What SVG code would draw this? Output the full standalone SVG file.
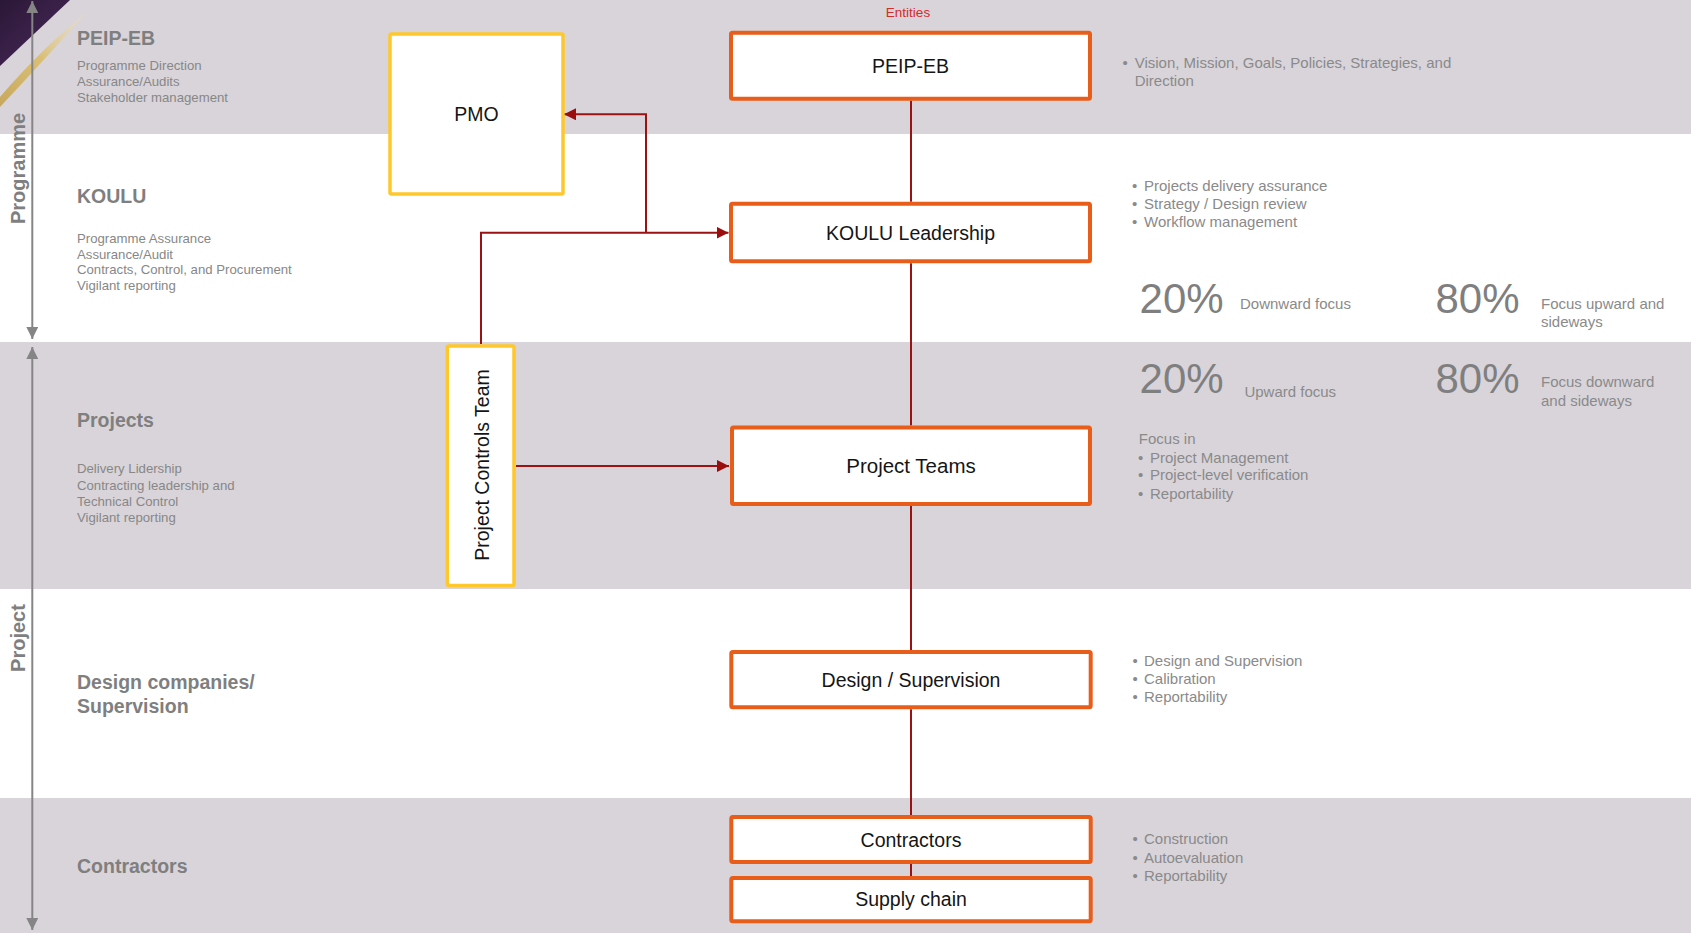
<svg xmlns="http://www.w3.org/2000/svg" width="1691" height="934" viewBox="0 0 1691 934">
  <defs>
    <style>
      .band { fill: #d8d4da; }
      .axis { stroke: #858585; stroke-width: 2; fill: none; }
      .axislbl { font-family: "Liberation Sans", Arial, sans-serif; font-size: 20px; font-weight: bold; fill: #7f7f7f; text-anchor: middle; }
      .head { font-family: "Liberation Sans", Arial, sans-serif; font-size: 19.5px; font-weight: bold; fill: #7f7f7f; }
      .sub { font-family: "Liberation Sans", Arial, sans-serif; font-size: 13.2px; fill: #878787; }
      .note { font-family: "Liberation Sans", Arial, sans-serif; font-size: 15px; fill: #8a8a8a; }
      .pct { font-family: "Liberation Sans", Arial, sans-serif; font-size: 42px; fill: #7f7f7f; }
      .entity { fill: #ffffff; stroke: #e85d1a; stroke-width: 4; }
      .support { fill: #ffffff; stroke: #ffc82a; stroke-width: 3.5; }
      .lbl { font-family: "Liberation Sans", Arial, sans-serif; font-size: 19.5px; fill: #151515; text-anchor: middle; }
      .link { stroke: #9a1212; stroke-width: 2; fill: none; }
      .caption { font-family: "Liberation Sans", Arial, sans-serif; font-size: 13.5px; fill: #d42b2b; text-anchor: middle; }
    </style>
    <marker id="arrowRed" markerWidth="12" markerHeight="12" refX="12" refY="6" orient="auto" markerUnits="userSpaceOnUse">
      <path d="M0,0 L12,6 L0,12 Z" fill="#9a0e0e"/>
    </marker>
    <marker id="arrowGray" markerWidth="12" markerHeight="12" refX="12" refY="6" orient="auto-start-reverse" markerUnits="userSpaceOnUse">
      <path d="M0,0 L12,6 L0,12 Z" fill="#858585"/>
    </marker>
    <linearGradient id="purple" x1="0" y1="0" x2="1" y2="1">
      <stop offset="0" stop-color="#2a1736"/>
      <stop offset="1" stop-color="#4d2c5e"/>
    </linearGradient>
    <linearGradient id="gold" x1="1" y1="0" x2="0" y2="1">
      <stop offset="0" stop-color="#efe3c0" stop-opacity="0.4"/>
      <stop offset="0.5" stop-color="#d9bf76"/>
      <stop offset="1" stop-color="#c8a95c"/>
    </linearGradient>
  </defs>

  <!-- background bands -->
  <rect x="0" y="0" width="1691" height="934" fill="#ffffff"/>
  <rect class="band" x="0" y="0" width="1691" height="134"/>
  <rect class="band" x="0" y="342" width="1691" height="247"/>
  <rect class="band" x="0" y="798" width="1691" height="135"/>

  <!-- corner ornament -->
  <polygon points="0,0 70,0 0,66" fill="url(#purple)"/>
  <path d="M86,13 Q44,46 0,97 L0,107 Q46,58 86,13 Z" fill="url(#gold)"/>

  <!-- level axes -->
  <g id="axis-programme">
    <line class="axis" x1="32.3" y1="1" x2="32.3" y2="339" marker-start="url(#arrowGray)" marker-end="url(#arrowGray)"/>
    <text class="axislbl" transform="translate(25,168.5) rotate(-90)">Programme</text>
  </g>
  <g id="axis-project">
    <line class="axis" x1="32.3" y1="347" x2="32.3" y2="930" marker-start="url(#arrowGray)" marker-end="url(#arrowGray)"/>
    <text class="axislbl" transform="translate(25,638) rotate(-90)">Project</text>
  </g>

  <!-- level descriptions -->
  <g id="level-peip">
    <text class="head" x="77" y="45">PEIP-EB</text>
    <text class="sub" x="77" y="70">Programme Direction</text>
    <text class="sub" x="77" y="86">Assurance/Audits</text>
    <text class="sub" x="77" y="102">Stakeholder management</text>
  </g>
  <g id="level-koulu">
    <text class="head" x="77" y="203">KOULU</text>
    <text class="sub" x="77" y="243">Programme Assurance</text>
    <text class="sub" x="77" y="259">Assurance/Audit</text>
    <text class="sub" x="77" y="274">Contracts, Control, and Procurement</text>
    <text class="sub" x="77" y="290">Vigilant reporting</text>
  </g>
  <g id="level-projects">
    <text class="head" x="77" y="426.5">Projects</text>
    <text class="sub" x="77" y="472.5">Delivery Lidership</text>
    <text class="sub" x="77" y="490">Contracting leadership and</text>
    <text class="sub" x="77" y="506">Technical Control</text>
    <text class="sub" x="77" y="521.5">Vigilant reporting</text>
  </g>
  <g id="level-design">
    <text class="head" x="77" y="689">Design companies/</text>
    <text class="head" x="77" y="712.5">Supervision</text>
  </g>
  <g id="level-contractors">
    <text class="head" x="77" y="872.5">Contractors</text>
  </g>

  <text class="caption" x="908" y="17">Entities</text>

  <!-- connectors -->
  <g id="connectors">
    <line class="link" x1="911" y1="100.7" x2="911" y2="201.7"/>
    <line class="link" x1="911" y1="263.3" x2="911" y2="425.5"/>
    <line class="link" x1="911" y1="506" x2="911" y2="650"/>
    <line class="link" x1="911" y1="709.3" x2="911" y2="815"/>
    <line class="link" x1="911" y1="864" x2="911" y2="876"/>
    <path class="link" d="M481,344 V232.7 H728.5" marker-end="url(#arrowRed)"/>
    <path class="link" d="M646,232.7 V114.3 H564" marker-end="url(#arrowRed)"/>
    <path class="link" d="M516,466 H729" marker-end="url(#arrowRed)"/>
  </g>

  <!-- entity nodes -->
  <g id="node-peip-eb">
    <rect class="entity" x="731" y="32.7" width="359" height="66" rx="1.5"/>
    <text class="lbl" x="910.5" y="73">PEIP-EB</text>
  </g>
  <g id="node-koulu-leadership">
    <rect class="entity" x="731" y="203.7" width="359" height="57.6" rx="1.5"/>
    <text class="lbl" x="910.5" y="240">KOULU Leadership</text>
  </g>
  <g id="node-project-teams">
    <rect class="entity" x="732" y="427.5" width="358" height="76.5" rx="1.5"/>
    <text class="lbl" x="911" y="472.7" style="font-size:20.5px">Project Teams</text>
  </g>
  <g id="node-design-supervision">
    <rect class="entity" x="731.3" y="652" width="359.4" height="55.3" rx="1.5"/>
    <text class="lbl" x="911" y="687.3">Design / Supervision</text>
  </g>
  <g id="node-contractors">
    <rect class="entity" x="731.3" y="817" width="359.4" height="45" rx="1.5"/>
    <text class="lbl" x="911" y="846.7">Contractors</text>
  </g>
  <g id="node-supply-chain">
    <rect class="entity" x="731.3" y="878" width="359.4" height="43.3" rx="1.5"/>
    <text class="lbl" x="911" y="906.3">Supply chain</text>
  </g>

  <!-- support nodes -->
  <g id="node-pmo">
    <rect class="support" x="390" y="34" width="173" height="160" rx="1.5"/>
    <text class="lbl" x="476.5" y="121">PMO</text>
  </g>
  <g id="node-project-controls">
    <rect class="support" x="447.3" y="346" width="66.7" height="239.5" rx="1.5"/>
    <text class="lbl" transform="translate(488.7,465) rotate(-90)">Project Controls Team</text>
  </g>

  <!-- responsibilities -->
  <g id="notes-peip">
    <text class="note" x="1122.6" y="67.7">•</text>
    <text class="note" x="1134.7" y="67.7">Vision, Mission, Goals, Policies, Strategies, and</text>
    <text class="note" x="1134.7" y="86">Direction</text>
  </g>
  <g id="notes-koulu">
    <text class="note" x="1132" y="190.7">•</text>
    <text class="note" x="1144" y="190.7">Projects delivery assurance</text>
    <text class="note" x="1132" y="209">•</text>
    <text class="note" x="1144" y="209">Strategy / Design review</text>
    <text class="note" x="1132" y="226.7">•</text>
    <text class="note" x="1144" y="226.7">Workflow management</text>
  </g>
  <g id="focus-split">
    <text class="pct" x="1139.6" y="313.3">20%</text>
    <text class="note" x="1240" y="309">Downward focus</text>
    <text class="pct" x="1435.5" y="313.3">80%</text>
    <text class="note" x="1541" y="309">Focus upward and</text>
    <text class="note" x="1541" y="327">sideways</text>
    <text class="pct" x="1139.6" y="393.3">20%</text>
    <text class="note" x="1244.4" y="396.7">Upward focus</text>
    <text class="pct" x="1435.5" y="393.3">80%</text>
    <text class="note" x="1541" y="387.3">Focus downward</text>
    <text class="note" x="1541" y="405.7">and sideways</text>
  </g>
  <g id="notes-projects">
    <text class="note" x="1138.8" y="444">Focus in</text>
    <text class="note" x="1138" y="462.7">•</text>
    <text class="note" x="1150" y="462.7">Project Management</text>
    <text class="note" x="1138" y="480.3">•</text>
    <text class="note" x="1150" y="480.3">Project-level verification</text>
    <text class="note" x="1138" y="498.7">•</text>
    <text class="note" x="1150" y="498.7">Reportability</text>
  </g>
  <g id="notes-design">
    <text class="note" x="1132.5" y="666">•</text>
    <text class="note" x="1144" y="666">Design and Supervision</text>
    <text class="note" x="1132.5" y="684.3">•</text>
    <text class="note" x="1144" y="684.3">Calibration</text>
    <text class="note" x="1132.5" y="702">•</text>
    <text class="note" x="1144" y="702">Reportability</text>
  </g>
  <g id="notes-contractors">
    <text class="note" x="1132.5" y="844">•</text>
    <text class="note" x="1144" y="844">Construction</text>
    <text class="note" x="1132.5" y="862.7">•</text>
    <text class="note" x="1144" y="862.7">Autoevaluation</text>
    <text class="note" x="1132.5" y="880.7">•</text>
    <text class="note" x="1144" y="880.7">Reportability</text>
  </g>
</svg>
